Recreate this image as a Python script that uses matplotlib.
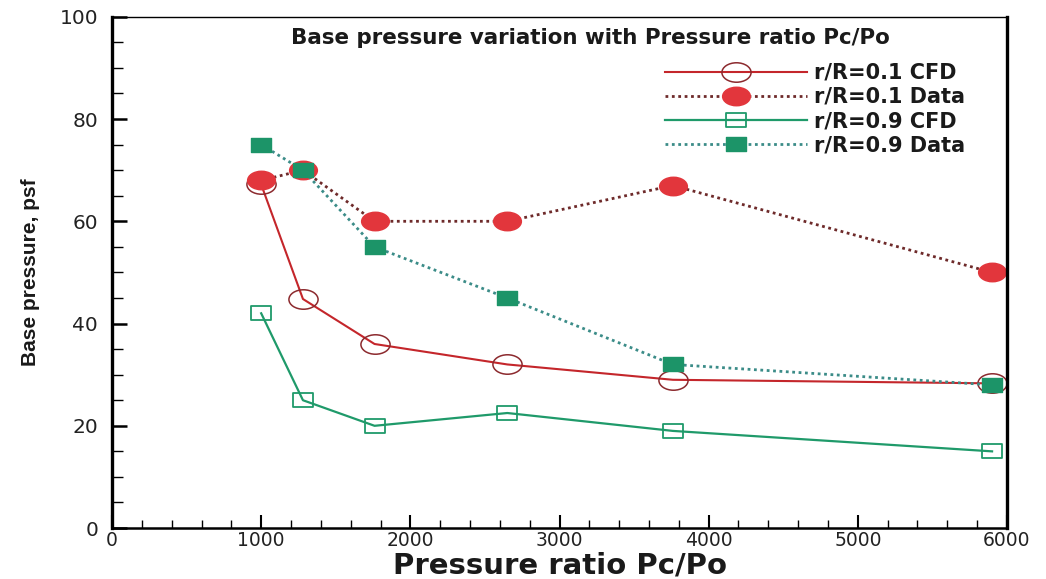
import matplotlib
matplotlib.use("Agg")
import matplotlib.pyplot as plt
import numpy as np
from matplotlib.path import Path
from matplotlib.ticker import MultipleLocator

# ---- data ----
pressure_ratio = [1000, 1280, 1760, 2650, 3760, 5900]
cfd_r01 = [67.2, 44.8, 36.0, 32.0, 29.0, 28.3]
data_r01 = [68.0, 70.0, 60.0, 60.0, 67.0, 50.0]
cfd_r09 = [42.0, 25.0, 20.0, 22.5, 19.0, 15.0]
data_r09 = [75.0, 70.0, 55.0, 45.0, 32.0, 28.0]
labels = ["r/R=0.1 CFD", "r/R=0.1 Data", "r/R=0.9 CFD", "r/R=0.9 Data"]
title = "Base pressure variation with Pressure ratio Pc/Po"
xlabel = "Pressure ratio Pc/Po"
ylabel = "Base pressure, psf"

# ---- custom (stretched) markers ----
circ = Path.unit_circle()
ellipse = Path(circ.vertices * np.array([1.5, 1.0]), circ.codes)
rect = Path([(-0.8, -0.5), (0.8, -0.5), (0.8, 0.5), (-0.8, 0.5), (-0.8, -0.5)],
            [Path.MOVETO, Path.LINETO, Path.LINETO, Path.LINETO, Path.CLOSEPOLY])

red_line = "#c4262b"
red_edge = "#8c2a2e"
red_fill = "#e2363c"
red_dot = "#6e2a2a"
green = "#1f9a6a"
green_fill = "#1c9468"
teal_dot = "#3b8c88"

fig = plt.figure(figsize=(10.46, 5.79), dpi=100)
ax = fig.add_axes([0.1071, 0.088, 0.8556, 0.883])

ax.plot(pressure_ratio, cfd_r01, color=red_line, lw=1.5, marker=ellipse, ms=21,
        mfc="none", mec=red_edge, mew=1.1, label=labels[0])
ax.plot(pressure_ratio, data_r01, color=red_dot, lw=2.0, ls=(0, (1, 1.3)),
        marker=ellipse, ms=20, mfc=red_fill, mec=red_fill, label=labels[1])
ax.plot(pressure_ratio, cfd_r09, color=green, lw=1.6, marker=rect, ms=15,
        mfc="none", mec=green, mew=1.3, label=labels[2])
ax.plot(pressure_ratio, data_r09, color=teal_dot, lw=2.0, ls=(0, (1, 1.3)),
        marker=rect, ms=15, mfc=green_fill, mec=green_fill, label=labels[3])

ax.set_xlim(0, 6000)
ax.set_ylim(0, 100)
ax.xaxis.set_major_locator(MultipleLocator(1000))
ax.xaxis.set_minor_locator(MultipleLocator(200))
ax.yaxis.set_major_locator(MultipleLocator(20))
ax.yaxis.set_minor_locator(MultipleLocator(5))

ax.tick_params(which="both", direction="in", top=False, right=False)
ax.tick_params(axis="x", which="major", length=9.5, width=1.5, pad=2, labelsize=13.5)
ax.tick_params(axis="x", which="minor", length=6, width=1.0)
ax.tick_params(axis="y", which="major", length=11, width=1.8, pad=10, labelsize=14.5)
ax.tick_params(axis="y", which="minor", length=8, width=1.0)
for lab in ax.get_xticklabels() + ax.get_yticklabels():
    lab.set_family("DejaVu Sans")
    lab.set_color("#222222")

ax.spines["left"].set_linewidth(2.4)
ax.spines["bottom"].set_linewidth(1.8)
ax.spines["right"].set_linewidth(2.4)
ax.spines["top"].set_linewidth(1.0)

ax.set_xlabel(xlabel, fontsize=21, fontweight="bold", family="DejaVu Sans",
              color="#1a1a1a")
ax.xaxis.set_label_coords(0.5, -0.045)
ax.set_ylabel(ylabel, fontsize=15, fontweight="bold", family="Liberation Sans",
              labelpad=14, color="#1a1a1a")

ax.text(0.535, 0.959, title, transform=ax.transAxes, ha="center", va="center",
        fontsize=15.4, fontweight="bold", family="DejaVu Sans", color="#1a1a1a")

leg = ax.legend(loc="upper left", bbox_to_anchor=(0.618, 0.910), frameon=False,
                borderpad=0, borderaxespad=0, handlelength=6.8, handletextpad=0.34,
                labelspacing=0.2, numpoints=1,
                prop={"family": "DejaVu Sans", "weight": "bold", "size": 15})
for t in leg.get_texts():
    t.set_color("#1a1a1a")

fig.savefig("out.png", dpi=100)
